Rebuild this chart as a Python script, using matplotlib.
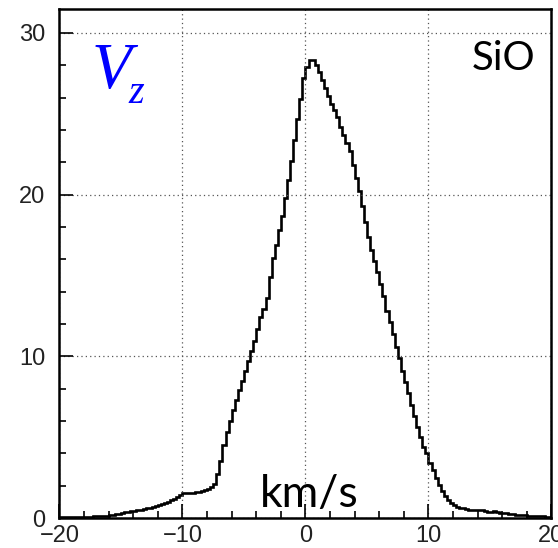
import numpy as np
import matplotlib.pyplot as plt
from matplotlib.ticker import MultipleLocator

# histogram range / binning (160 bins of 0.25 km/s)
x_lo, x_hi, n_bins = -20, 20, 160

# bin contents, left to right
counts = [
    0.05, 0.04, 0.06, 0.05, 0.06, 0.07, 0.06, 0.08,
    0.07, 0.09, 0.08, 0.10, 0.11, 0.10, 0.13, 0.15,
    0.16, 0.19, 0.23, 0.27, 0.32, 0.37, 0.40, 0.42,
    0.45, 0.48, 0.51, 0.56, 0.59, 0.64, 0.68, 0.73,
    0.79, 0.85, 0.92, 1.00, 1.10, 1.20, 1.31, 1.45,
    1.52, 1.53, 1.55, 1.57, 1.60, 1.63, 1.68, 1.74,
    1.80, 1.92, 2.10, 2.75, 3.50, 4.50, 5.30, 6.00,
    6.65, 7.30, 7.90, 8.50, 9.10, 9.70, 10.30, 10.95,
    11.70, 12.40, 12.90, 13.60, 14.90, 16.10, 16.90, 17.80,
    18.70, 19.80, 20.90, 22.10, 23.40, 24.70, 25.90, 27.20,
    27.90, 28.30, 28.30, 28.00, 27.60, 27.10, 26.60, 26.10,
    25.60, 25.20, 24.80, 24.20, 23.70, 23.20, 22.70, 21.80,
    21.00, 20.20, 19.30, 18.30, 17.40, 16.60, 15.90, 15.20,
    14.50, 13.70, 12.80, 12.10, 11.40, 10.60, 9.90, 9.10,
    8.40, 7.70, 7.00, 6.30, 5.60, 5.00, 4.40, 4.00,
    3.40, 3.00, 2.50, 2.05, 1.70, 1.35, 1.10, 0.90,
    0.78, 0.70, 0.65, 0.60, 0.56, 0.52, 0.50, 0.47,
    0.52, 0.48, 0.42, 0.40, 0.38, 0.42, 0.40, 0.33,
    0.31, 0.29, 0.26, 0.24, 0.21, 0.20, 0.18, 0.16,
    0.15, 0.14, 0.13, 0.12, 0.11, 0.10, 0.09, 0.08,
]
edges = np.linspace(x_lo, x_hi, n_bins + 1)

fig = plt.figure(figsize=(5.58, 5.48), dpi=100)
ax = fig.add_axes([0.1066, 0.0547, 0.8817, 0.9297])

ax.stairs(counts, edges, baseline=None, color='black', lw=1.9)

ax.set_xlim(x_lo, x_hi)
ax.set_ylim(0, 31.5)
ax.xaxis.set_major_locator(MultipleLocator(10))
ax.xaxis.set_minor_locator(MultipleLocator(2))
ax.yaxis.set_major_locator(MultipleLocator(10))
ax.yaxis.set_minor_locator(MultipleLocator(2))
ax.tick_params(which='both', direction='in', width=1.2, color='black')
ax.tick_params(which='major', length=10)
ax.tick_params(which='minor', length=5)
ax.tick_params(axis='x', which='major', pad=5)
ax.tick_params(axis='y', which='major', pad=10)
for lab in ax.get_xticklabels() + ax.get_yticklabels():
    lab.set_fontfamily('Liberation Sans')
    lab.set_fontsize(17)
    lab.set_color('#222222')
for s in ax.spines.values():
    s.set_linewidth(1.8)

ax.grid(True, which='major', color='#555555', linestyle=(0, (1, 2.5)), lw=0.9)

# labels
fig.text(0.165, 0.839, 'V', color='blue', fontsize=47,
         family='Liberation Serif', style='italic', ha='left', va='baseline')
fig.text(0.230, 0.812, 'z', color='blue', fontsize=29,
         family='Liberation Serif', style='italic', ha='left', va='baseline')
fig.text(0.959, 0.872, 'SiO', fontsize=29, family='Lato',
         ha='right', va='baseline')
fig.text(0.466, 0.0754, 'km/s', fontsize=32, family='Lato',
         ha='left', va='baseline')

fig.savefig('out.png', dpi=100)
